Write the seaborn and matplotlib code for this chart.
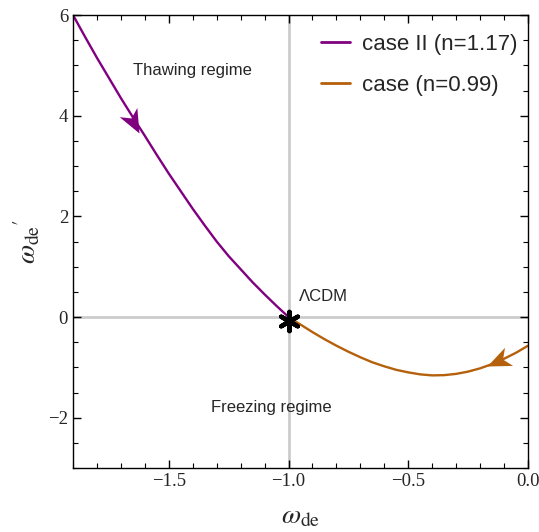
import numpy as np
import pandas as pd
import matplotlib
matplotlib.use("Agg")
import matplotlib.pyplot as plt
from matplotlib.path import Path
from matplotlib.markers import MarkerStyle
from matplotlib.transforms import Affine2D
import seaborn as sns

# Data
w_thaw = [-1.9, -1.85, -1.8, -1.75, -1.7, -1.65, -1.6, -1.55, -1.5, -1.45,
          -1.4, -1.35, -1.3, -1.25, -1.2, -1.15, -1.1, -1.05, -1.0]
wp_thaw = [6.0, 5.57, 5.15, 4.75, 4.35, 3.97, 3.6, 3.22, 2.85, 2.5,
           2.15, 1.82, 1.5, 1.21, 0.95, 0.69, 0.45, 0.22, 0.0]

w_freeze = [-1.0, -0.95, -0.9, -0.85, -0.8, -0.75, -0.7, -0.65, -0.6, -0.55,
            -0.5, -0.45, -0.4, -0.35, -0.3, -0.25, -0.2, -0.15, -0.1, -0.05, 0.0]
wp_freeze = [0.0, -0.15, -0.3, -0.44, -0.57, -0.69, -0.8, -0.9, -0.98, -1.05,
             -1.1, -1.14, -1.16, -1.155, -1.13, -1.085, -1.02, -0.935, -0.83, -0.71, -0.57]

# arrow positions (tip, and a point behind it on the curve)
arrow_tips = [(-1.624, 3.66), (-0.17, -0.965)]
arrow_tails = [(-1.70, 4.35), (-0.05, -0.71)]

labels = ["case II (n=1.17)", "case (n=0.99)"]
colors = ["#800080", "#B5600B"]

sns.set_style("ticks")
plt.rcParams["mathtext.fontset"] = "stix"

fig = plt.figure(figsize=(5.39, 5.32), dpi=100)
ax = fig.add_axes([0.1354, 0.1203, 0.8442, 0.8515])

df = pd.concat([
    pd.DataFrame({"w": w_thaw, "wp": wp_thaw, "case": labels[0]}),
    pd.DataFrame({"w": w_freeze, "wp": wp_freeze, "case": labels[1]}),
])

ax.axvline(-1.0, color="#cccccc", lw=2, zorder=0)
ax.axhline(0.0, color="#cccccc", lw=2, zorder=0)

sns.lineplot(data=df, x="w", y="wp", hue="case", palette=colors, sort=False,
             lw=1.7, ax=ax, legend=True)

ax.set_xlim(-1.9, 0.0)
ax.set_ylim(-3, 6)

# notched arrowhead marker, tip at origin pointing to +x
head = Path([(0, 0), (-1.0, 0.42), (-0.72, 0), (-1.0, -0.42), (0, 0)],
            [Path.MOVETO, Path.LINETO, Path.LINETO, Path.LINETO, Path.CLOSEPOLY])
for tip, tail, c in zip(arrow_tips, arrow_tails, colors):
    p1 = ax.transData.transform(tail)
    p2 = ax.transData.transform(tip)
    ang = np.degrees(np.arctan2(p2[1] - p1[1], p2[0] - p1[0]))
    m = MarkerStyle(head, transform=Affine2D().rotate_deg(ang))
    ax.plot([tip[0]], [tip[1]], marker=m, markersize=34, color=c,
            markeredgewidth=0, linestyle="none", zorder=4)

ax.scatter([-1.0], [-0.07], marker=(6, 2, 0), s=190, color="black",
           linewidths=3.2, zorder=5)

sfont = "Liberation Sans"
ax.text(-0.955, 0.25, "ΛCDM", fontsize=12, family=sfont, ha="left", va="bottom")
ax.text(-1.40, 4.9, "Thawing regime", fontsize=12, family=sfont, ha="center", va="center")
ax.text(-1.07, -1.8, "Freezing regime", fontsize=12, family=sfont, ha="center", va="center")

ax.set_xticks([-1.5, -1.0, -0.5, 0.0])
ax.set_xticklabels(["\u22121.5", "\u22121.0", "\u22120.5", "0.0"])
ax.set_xticks(np.arange(-1.9, 0.001, 0.1), minor=True)
ax.set_yticks([-2, 0, 2, 4, 6])
ax.set_yticklabels(["\u22122", "0", "2", "4", "6"])
ax.set_yticks(np.arange(-3, 6.01, 0.5), minor=True)
ax.tick_params(which="both", direction="in", top=True, right=True,
               labelsize=13.5, color="black")
ax.tick_params(which="major", length=6, width=1)
ax.tick_params(which="minor", length=3.5, width=0.8)
for lab in ax.get_xticklabels() + ax.get_yticklabels():
    lab.set_family("Liberation Serif")
for sp in ax.spines.values():
    sp.set_color("black")
    sp.set_linewidth(1)

ax.set_xlabel(r"$\omega_{\rm de}$", fontsize=20, labelpad=8)
ax.set_ylabel(r"$\omega_{\rm de}{}^{\prime}$", fontsize=20, labelpad=4)

leg = ax.legend(loc="upper right", bbox_to_anchor=(1.018, 1.0), frameon=False,
                handlelength=1.3, prop={"family": sfont, "size": 16},
                borderaxespad=0.45, labelspacing=0.9, handletextpad=0.55)
for h in leg.get_lines():
    h.set_linewidth(2)

fig.savefig("out.png", dpi=100)
